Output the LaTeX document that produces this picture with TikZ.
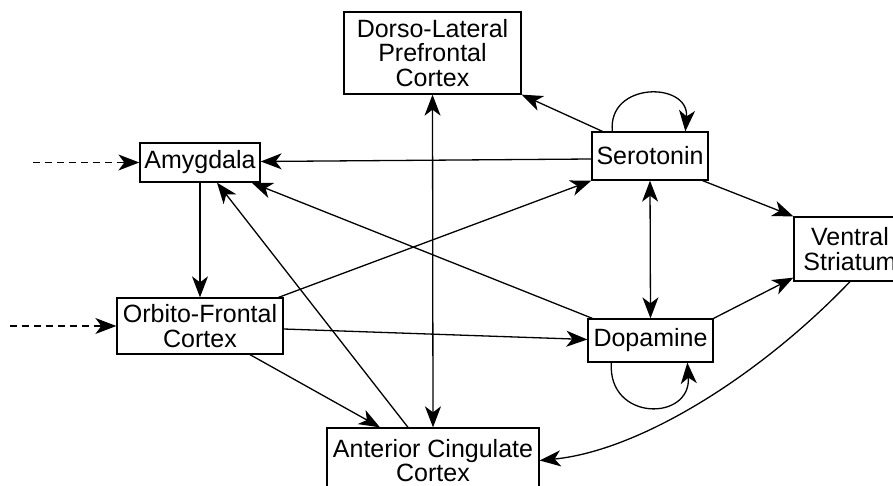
\documentclass[tikz,border=0pt]{standalone}
\usepackage{fontspec}
\setmainfont{Liberation Sans}
\usetikzlibrary{arrows.meta,calc}
\begin{document}
\begin{tikzpicture}[x=1pt,y=-1pt,
  box/.style={draw, line width=1.3pt, rectangle, inner sep=0pt, align=center,
    font=\fontsize{25}{24.5}\selectfont},
  link/.style={line width=1.3pt, -{Stealth[length=21pt,width=16pt,inset=6pt]}},
  twoway/.style={line width=1.3pt, {Stealth[length=21pt,width=16pt,inset=6pt]}-{Stealth[length=21pt,width=16pt,inset=6pt]}},
  feed/.style={link, dash pattern=on 7pt off 5pt}]
\useasboundingbox (0,0) rectangle (893,486);
\clip (0,0) rectangle (893,486);

% regions
\node[box, minimum width=120pt, minimum height=39pt] (amy) at (200,162.5) {Amygdala};
\node[box, minimum width=166pt, minimum height=56pt] (ofc) at (200,326) {Orbito-Frontal\\Cortex};
\node[box, minimum width=177pt, minimum height=82pt] (dlpfc) at (432.5,53) {Dorso-Lateral\\Prefrontal\\Cortex};
\node[box, minimum width=116pt, minimum height=48pt] (ser) at (650,156) {Serotonin};
\node[box, minimum width=125pt, minimum height=43pt] (dop) at (650.5,340.5) {Dopamine};
\node[box, minimum width=112pt, minimum height=64pt] (vs) at (850,249) {Ventral\\Striatum};
\node[box, minimum width=212pt, minimum height=65pt] (acc) at (433,460.5) {Anterior Cingulate\\Cortex};

% external inputs
\coordinate (inA) at (33,162.5);
\coordinate (inO) at (10,326);
\draw[feed] (inA) -- (amy.west);
\draw[feed] (inO) -- (ofc.west);

% connections
\draw[link] (amy.south) -- (ofc.north);
\draw[link] ($(ser.west)+(0,3)$) -- ($(amy.east)+(0,-1)$);
\draw[link] ($(ser.north west)+(11,0)$) -- (dlpfc.south east);
\draw[link] ($(ser.north west)+(21,0)$) .. controls ($(ser.north west)+(16,-50)$) and ($(ser.north west)+(98,-50)$) .. ($(ser.north west)+(94,0)$);
\draw[twoway] (ser.south) -- (dop.north);
\draw[link] ($(ser.south east)+(-6,0)$) -- (vs.north west);
\draw[link] (dop.north east) -- ($(vs.south west)+(0,-4)$);
\draw[link] ($(dop.south west)+(24,0)$) .. controls ($(dop.south west)+(20,59)$) and ($(dop.south west)+(104,59)$) .. ($(dop.south west)+(100,0)$);
\draw[link] (vs.south) .. controls ($(vs.south)+(-90,94)$) and ($(vs.south)+(-210,169)$) .. (acc.east);
\draw[link] ($(ofc.north east)+(-5,0)$) -- (ser.south west);
\draw[link] ($(ofc.east)+(0,3)$) -- ($(dop.west)+(0,-1)$);
\draw[link] ($(ofc.south)+(50,0)$) -- ($(acc.north)+(-53,0)$);
\draw[link] ($(acc.north)+(-25,0)$) -- ($(amy.south)+(17,0)$);
\draw[link] ($(dop.north west)+(5,0)$) -- ($(amy.south east)+(-9,0)$);
\draw[twoway] (dlpfc.south) -- (acc.north);
\end{tikzpicture}
\end{document}
